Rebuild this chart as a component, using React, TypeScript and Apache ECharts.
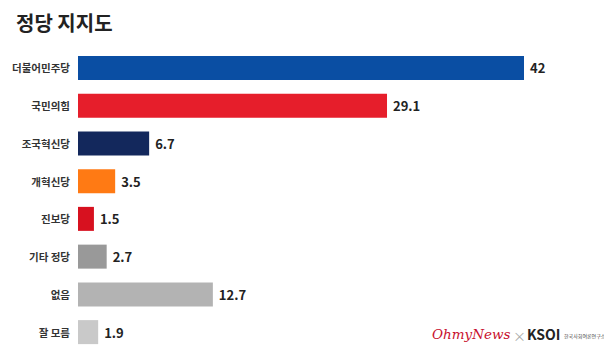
import React, { useEffect, useRef } from "react";
import * as echarts from "echarts";

const categories = ["더불어민주당", "국민의힘", "조국혁신당", "개혁신당", "진보당", "기타 정당", "없음", "잘 모름"];
const values = [42, 29.1, 6.7, 3.5, 1.5, 2.7, 12.7, 1.9];
const colors = ["#0a4ea3", "#e61e2b", "#13285c", "#ff7a14", "#d7111f", "#999999", "#b3b3b3", "#c9c9c9"];

export default function App() {
  const ref = useRef<HTMLDivElement>(null);
  useEffect(() => {
    if (!ref.current) return;
    const chart = echarts.init(ref.current, null, { renderer: "svg" });
    const font = "'Noto Sans CJK KR', 'Noto Sans', sans-serif";
    chart.setOption({
      animation: false,
      backgroundColor: "#ffffff",
      title: {
        text: "정당 지지도",
        left: 11,
        top: 7,
        textStyle: { fontFamily: font, fontSize: 20, fontWeight: "bold", color: "#222" },
      },
      grid: { left: 78, right: 88, top: 49, bottom: 2, containLabel: false },
      xAxis: { type: "value", min: 0, max: 42, show: false },
      yAxis: {
        type: "category",
        data: categories,
        inverse: true,
        axisLine: { show: false },
        axisTick: { show: false },
        axisLabel: { fontFamily: font, fontSize: 10.5, fontWeight: "bold", color: "#333", margin: 8 },
      },
      series: [
        {
          type: "bar",
          barWidth: 24,
          data: values.map((v, i) => ({ value: v, itemStyle: { color: colors[i] } })),
          label: {
            show: true,
            position: "right",
            distance: 6,
            fontFamily: font,
            fontSize: 13,
            fontWeight: "bold",
            color: "#222",
          },
        },
      ],
      graphic: [
        {
          type: "text",
          left: 432,
          top: 327,
          style: { text: "OhmyNews", fontFamily: "'DejaVu Serif', serif", fontStyle: "italic", fontSize: 13.5, fill: "#c8102e" },
        },
        {
          type: "text",
          left: 513,
          top: 329,
          style: { text: "×", fontFamily: font, fontSize: 13, fill: "#aaa" },
        },
        {
          type: "text",
          left: 527,
          top: 327,
          style: { text: "KSOI", fontFamily: font, fontSize: 14, fontWeight: "bold", fill: "#222" },
        },
        {
          type: "text",
          left: 564,
          top: 333,
          style: { text: "한국사회여론연구소", fontFamily: font, fontSize: 5, fill: "#444" },
        },
      ],
    });
    return () => chart.dispose();
  }, []);
  return <div ref={ref} style={{ width: 612, height: 353, margin: -8 }} />;
}
